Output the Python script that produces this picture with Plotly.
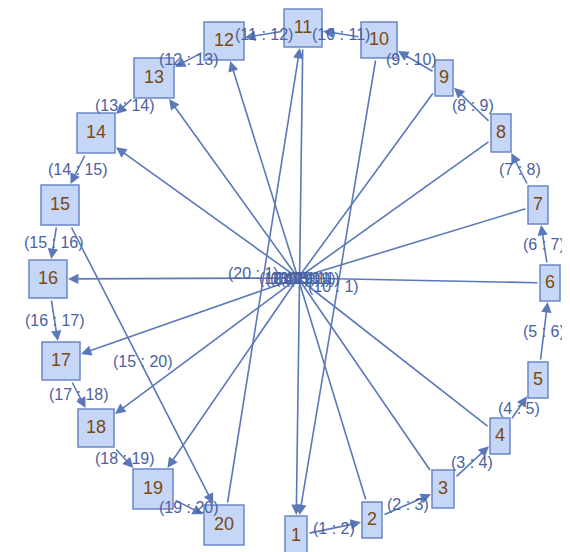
import plotly.graph_objects as go

# node positions (pixel-like layout coordinates) and box sizes
node_ids = list(range(1, 21))
node_x = [288, 364, 435, 492, 530, 542, 530, 493, 436, 371, 295, 216, 146, 88, 52, 40, 53, 88, 145, 216]
node_y = [528, 512, 481, 428, 372, 275, 197, 125, 70, 32, 20, 33, 70, 125, 197, 271, 353, 420, 481, 517]
node_w = [22, 20, 22, 20, 20, 20, 20, 20, 18, 36, 38, 40, 40, 38, 38, 38, 38, 36, 40, 40]
node_h = [40, 36, 38, 36, 36, 36, 38, 38, 36, 36, 38, 38, 40, 40, 40, 38, 38, 38, 40, 40]
hub = (290, 270)

ring_edges = [(i, i + 1) for i in range(1, 20)]
hub_out = [12, 13, 14, 16, 17, 18, 19]          # hub -> node, arrow at node
hub_in = [2, 3, 4, 6, 7, 8, 9]                  # node -> hub
chords = [(11, 1), (10, 1), (20, 11), (15, 20)]

EDGE = "#5b78b8"
LBL = "#4a62a0"


def pos(n):
    return node_x[n - 1], node_y[n - 1]


def clip(n, fx, fy):
    # point where the line from (fx,fy) to node n meets the node box
    cx, cy = pos(n)
    hw, hh = node_w[n - 1] / 2 + 1, node_h[n - 1] / 2 + 1
    dx, dy = fx - cx, fy - cy
    t = min(hw / abs(dx) if dx else 1e9, hh / abs(dy) if dy else 1e9)
    return cx + dx * t, cy + dy * t


fig = go.Figure()
ann = []


def arrow(x0, y0, x1, y1, head=True):
    ann.append(dict(x=x1, y=y1, ax=x0, ay=y0, xref="x", yref="y", axref="x", ayref="y",
                    showarrow=True, arrowhead=2 if head else 0, arrowsize=1.3, arrowwidth=1.6,
                    arrowcolor=EDGE, text=""))


def label(x, y, t):
    ann.append(dict(x=x, y=y, text=t, showarrow=False, xref="x", yref="y",
                    font=dict(family="Liberation Sans", size=16, color=LBL)))


for a, b in ring_edges:
    ax, ay = pos(a)
    bx, by = pos(b)
    sx, sy = clip(a, bx, by)
    ex, ey = clip(b, ax, ay)
    arrow(sx, sy, ex, ey)
    label((ax + bx) / 2, (ay + by) / 2, f"({a} : {b})")

for n in hub_out:
    ex, ey = clip(n, *hub)
    arrow(hub[0], hub[1], ex, ey)
for n in hub_in:
    sx, sy = clip(n, *hub)
    arrow(sx, sy, hub[0], hub[1], head=False)

for a, b in chords:
    ax, ay = pos(a)
    bx, by = pos(b)
    sx, sy = clip(a, bx, by)
    ex, ey = clip(b, ax, ay)
    arrow(sx, sy, ex, ey)

label(245, 265, "(20 : 1)")
label(325, 278, "(10 : 1)")
label(135, 353, "(15 : 20)")
for k, dx in enumerate([-14, -8, -3, 2, 7, 12, 16]):
    label(hub[0] + dx, hub[1], f"({hub_out[k]} : 1)")

shapes = []
for i, n in enumerate(node_ids):
    x, y = pos(n)
    shapes.append(dict(type="rect", xref="x", yref="y",
                       x0=x - node_w[i] / 2, x1=x + node_w[i] / 2,
                       y0=y - node_h[i] / 2, y1=y + node_h[i] / 2,
                       fillcolor="#c6d6f6", line=dict(color="#6a88c8", width=1.5), layer="below"))

fig.add_trace(go.Scatter(x=node_x, y=node_y, mode="text", text=[str(n) for n in node_ids],
                         textfont=dict(family="Liberation Sans", size=18, color="#7a4a10"),
                         hoverinfo="skip"))

fig.update_layout(width=570, height=552, margin=dict(l=0, r=0, t=0, b=0),
                  plot_bgcolor="white", paper_bgcolor="white", showlegend=False,
                  shapes=shapes, annotations=ann,
                  xaxis=dict(range=[0, 570], visible=False),
                  yaxis=dict(range=[552, 0], visible=False))
fig.write_html("out.html")
